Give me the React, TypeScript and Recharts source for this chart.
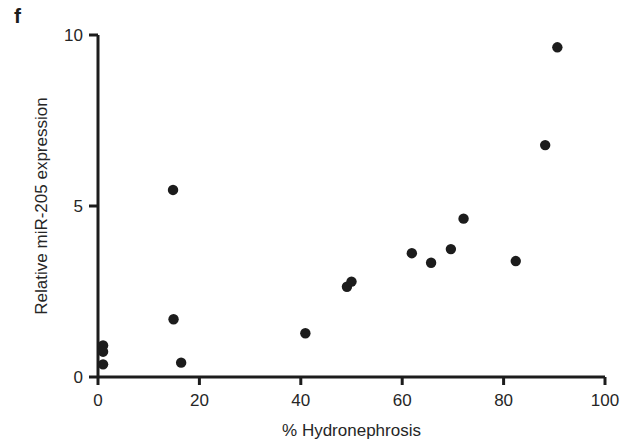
import React from 'react';
import { ScatterChart, Scatter, XAxis, YAxis } from 'recharts';

// % hydronephrosis (x) vs relative miR-205 expression (y)
const hydronephrosis = [1, 1, 1, 14.8, 14.9, 16.4, 40.9, 49.1, 50.0, 61.9, 65.7, 69.6, 72.1, 82.4, 88.2, 90.6];
const mir205 = [0.92, 0.74, 0.37, 5.47, 1.69, 0.42, 1.28, 2.64, 2.79, 3.62, 3.34, 3.74, 4.63, 3.39, 6.78, 9.64];

const xTicks = [0, 20, 40, 60, 80, 100];
const yTicks = [0, 5, 10];

const points = hydronephrosis.map((x, i) => ({ x, y: mir205[i] }));

const FONT = '"Liberation Sans", Arial, Helvetica, sans-serif';
const INK = '#1c1c1c';
const TEXT = '#262626';

const Dot = (props: any) => {
  const { cx, cy } = props;
  if (cx == null || cy == null) return null;
  return <circle cx={cx} cy={cy} r={5.2} fill={INK} />;
};

const YTitle = ({ viewBox }: any) => {
  const x = viewBox.x + 41;
  const y = viewBox.y + viewBox.height / 2;
  return (
    <text
      x={x}
      y={y}
      transform={`rotate(-90, ${x}, ${y})`}
      textAnchor="middle"
      dominantBaseline="central"
      fill={TEXT}
      fontSize={17}
      fontFamily={FONT}
    >
      Relative miR-205 expression
    </text>
  );
};

const XTitle = ({ viewBox }: any) => {
  const x = viewBox.x + viewBox.width / 2;
  return (
    <text
      x={x}
      y={viewBox.y + 53}
      textAnchor="middle"
      dominantBaseline="central"
      fill={TEXT}
      fontSize={17}
      fontFamily={FONT}
    >
      % Hydronephrosis
    </text>
  );
};

const App: React.FC = () => {
  const axisLine = { stroke: INK, strokeWidth: 3 };
  const tick = { fontSize: 17, fill: TEXT, fontFamily: FONT };

  return (
    <div style={{ position: 'absolute', left: 0, top: 0, width: 633, height: 440, background: '#fff' }}>
      <div
        style={{
          position: 'absolute',
          left: 14,
          top: 4,
          fontFamily: FONT,
          fontWeight: 'bold',
          fontSize: 21,
          color: INK,
        }}
      >
        f
      </div>
      <ScatterChart width={633} height={440} margin={{ top: 35, right: 28, bottom: 0, left: 0 }}>
        <XAxis
          type="number"
          dataKey="x"
          domain={[0, 100]}
          ticks={xTicks}
          interval={0}
          height={63}
          tickSize={8}
          tickMargin={9}
          axisLine={axisLine}
          tickLine={axisLine}
          tick={tick}
          label={{ content: <XTitle /> }}
        />
        <YAxis
          type="number"
          dataKey="y"
          domain={[0, 10]}
          ticks={yTicks}
          interval={0}
          width={98}
          tickSize={9}
          tickMargin={6}
          axisLine={axisLine}
          tickLine={axisLine}
          tick={tick}
          label={{ content: <YTitle /> }}
        />
        <Scatter data={points} shape={<Dot />} isAnimationActive={false} />
      </ScatterChart>
    </div>
  );
};

export default App;
